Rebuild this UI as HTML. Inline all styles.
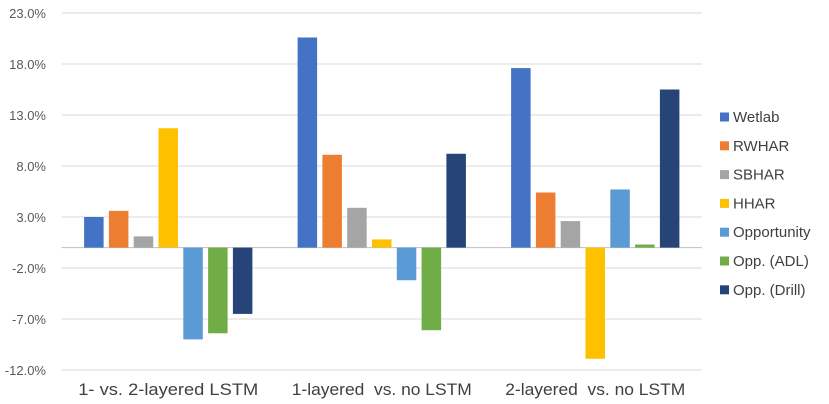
<!DOCTYPE html>
<html><head><meta charset="utf-8"><style>
body{margin:0;background:#fff;font-family:"Liberation Sans",sans-serif;}
svg{display:block}
</style></head><body>
<svg id="chart" width="829" height="404"></svg>
<script>
const categories=["1- vs. 2-layered LSTM","1-layered  vs. no LSTM","2-layered  vs. no LSTM"];
const seriesNames=["Wetlab","RWHAR","SBHAR","HHAR","Opportunity","Opp. (ADL)","Opp. (Drill)"];
const seriesColors=["#4472C4","#ED7D31","#A5A5A5","#FFC000","#5B9BD5","#70AD47","#264478"];
const wetlab=[3.0,20.6,17.6];
const rwhar=[3.6,9.1,5.4];
const sbhar=[1.1,3.9,2.6];
const hhar=[11.7,0.8,-10.9];
const opportunity=[-9.0,-3.2,5.7];
const oppAdl=[-8.4,-8.1,0.3];
const oppDrill=[-6.5,9.2,15.5];
const tickValues=[23,18,13,8,3,-2,-7,-12];
const series=[wetlab,rwhar,sbhar,hhar,opportunity,oppAdl,oppDrill];
const NS="http://www.w3.org/2000/svg";
const svg=document.getElementById('chart');
const yTop=13,yBot=370,vMax=23,vMin=-12;
const y=v=>yTop+(vMax-v)/(vMax-vMin)*(yBot-yTop);
const xL=61.5,xR=702,gw=(xR-xL)/categories.length,pitch=24.8,bw=19.5;
function mk(t,a){const e=document.createElementNS(NS,t);for(const k in a)e.setAttribute(k,a[k]);svg.appendChild(e);return e;}
tickValues.forEach(v=>{
 const l=mk('line',{x1:xL,x2:xR,y1:y(v),y2:y(v),stroke:'#d9d9d9','stroke-width':1});
 
 
 const t=mk('text',{x:46,y:y(v)+5,'text-anchor':'end','font-size':13,fill:'#595959'});
 t.textContent=v.toFixed(1)+'%';
 
 
});
const z=mk('line',{x1:xL,x2:xR,y1:y(0),y2:y(0),stroke:'#bfbfbf','stroke-width':1});


categories.forEach((c,i)=>{
 const cx=xL+gw*(i+0.5);
 series.forEach((s,j)=>{
  const v=s[i];
  const x=cx+(j-3)*pitch-bw/2;
  const r=mk('rect',{x:x,y:Math.min(y(v),y(0)),width:bw,height:Math.abs(y(v)-y(0)),fill:seriesColors[j]});
  
  
 });
 const t=mk('text',{x:cx,y:395,'text-anchor':'middle','font-size':17,fill:'#404040',textLength:180,lengthAdjust:'spacingAndGlyphs'});
 t.style.whiteSpace='pre';
 t.textContent=c;
 
 
});
seriesNames.forEach((n,j)=>{
 const ly=116.5+j*28.8;
 const r=mk('rect',{x:720,y:ly-4,width:9,height:9,fill:seriesColors[j]});
 
 
 const t=mk('text',{x:733,y:ly+5.5,'font-size':15,fill:'#404040'});
 t.textContent=n;
 
 
});
</script>
</body></html>
